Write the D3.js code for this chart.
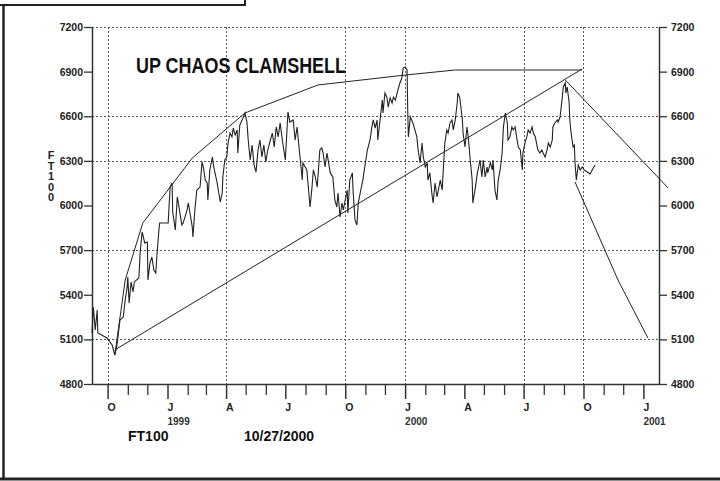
<!DOCTYPE html>
<html>
<head>
<meta charset="utf-8">
<script src="https://cdn.jsdelivr.net/npm/d3@7"></script>
<style>
body { margin:0; background:#fff; }
svg { display:block; font-family:"Liberation Sans", Arial, sans-serif; }
</style>
</head>
<body>
<svg id="chart" width="720" height="481"></svg>
<script>
var startDate = new Date(1998, 8, 7);
var endDate = new Date(2001, 0, 25);

var yTicks = [4800, 5100, 5400, 5700, 6000, 6300, 6600, 6900, 7200];
var yGrid = [7200, 6600, 6300, 5700, 5100];
var xGrid = ["1998-10-01", "1999-04-01", "1999-10-01", "2000-01-01", "2000-07-01", "2000-10-01"];
var quarterDates = ["1998-10-01", "1999-01-01", "1999-04-01", "1999-07-01", "1999-10-01",
                    "2000-01-01", "2000-04-01", "2000-07-01", "2000-10-01", "2001-01-01"];
var quarterLetters = ["O", "J", "A", "J", "O", "J", "A", "J", "O", "J"];
var yearDates = ["1999-01-01", "2000-01-01", "2001-01-01"];
var yearLabels = ["1999", "2000", "2001"];

// FT100 closes, day offsets counted from startDate
var priceDays = [0, 2, 5, 8, 9, 23, 31, 35, 38, 43, 48, 51, 54, 55, 57, 60, 63, 65, 72, 74,
  77, 81, 85, 86, 89, 92, 95, 98, 100, 103, 104, 117, 120, 123, 124, 128, 131, 132, 135, 138,
  140, 146, 148, 151, 154, 155, 158, 161, 166, 169, 171, 174, 177, 178, 181, 185, 187, 192, 194, 197,
  200, 201, 204, 207, 209, 212, 215, 217, 220, 223, 224, 227, 232, 235, 238, 240, 243, 246, 249, 252,
  255, 258, 261, 264, 267, 270, 274, 277, 280, 283, 286, 289, 293, 297, 301, 304, 309, 312, 315, 320,
  323, 324, 330, 335, 338, 340, 343, 346, 350, 353, 355, 358, 361, 366, 370, 373, 376, 378, 381, 384,
  386, 389, 392, 393, 396, 400, 401, 404, 407, 409, 412, 416, 419, 423, 427, 430, 432, 435, 438, 439,
  443, 446, 447, 450, 453, 455, 458, 461, 463, 466, 470, 473, 476, 478, 481, 484, 485, 486, 489, 493,
  499, 501, 504, 507, 509, 512, 515, 516, 519, 522, 524, 527, 530, 535, 538, 539, 542, 545, 547, 550,
  553, 555, 558, 561, 562, 565, 569, 570, 573, 576, 578, 581, 584, 585, 589, 592, 593, 596, 599, 601,
  604, 607, 608, 612, 615, 616, 619, 622, 624, 627, 630, 632, 635, 638, 639, 642, 645, 647, 650, 653,
  655, 658, 661, 662, 665, 668, 670, 673, 676, 678, 681, 684, 685, 688, 691, 693, 696, 699, 701, 704,
  707, 708, 711, 715, 716, 719, 722, 724, 727, 728, 730, 733, 734, 736, 739, 741, 742, 744, 745, 747,
  750, 753, 756, 761, 765, 770, 773];
var priceCloses = [5143, 5318, 5163, 5297, 5143, 5109, 5062, 4995, 5049, 5230, 5250, 5365, 5452, 5519, 5345, 5486, 5419, 5486, 5513, 5687,
  5822, 5748, 5755, 5499, 5613, 5654, 5566, 5546, 5681, 5849, 5882, 5882, 6124, 6151, 5956, 5835, 6057, 6037, 5950, 5869,
  5882, 5970, 6017, 5936, 5856, 5788, 5970, 6104, 6124, 6293, 6259, 6171, 6151, 6037, 6239, 6326, 6259, 6158, 6104, 6024,
  6084, 6192, 6306, 6326, 6420, 6487, 6461, 6521, 6474, 6508, 6353, 6541, 6588, 6622, 6561, 6440, 6306, 6407, 6272, 6225,
  6373, 6440, 6326, 6407, 6293, 6373, 6440, 6487, 6393, 6528, 6461, 6555, 6420, 6306, 6629, 6561, 6575, 6440, 6528, 6306,
  6171, 6286, 6239, 5990, 6124, 6239, 6192, 6124, 6373, 6387, 6353, 6259, 6353, 6219, 6192, 6037, 5990, 6084, 5923, 6017,
  5970, 6037, 6104, 5950, 6171, 6219, 6104, 5903, 5869, 6017, 6084, 6171, 6259, 6373, 6440, 6528, 6575, 6521, 6575, 6440,
  6595, 6709, 6622, 6756, 6729, 6662, 6723, 6689, 6729, 6709, 6777, 6824, 6857, 6924, 6931, 6911, 6642, 6461, 6595, 6555,
  6461, 6373, 6286, 6420, 6326, 6259, 6286, 6171, 6219, 6084, 6017, 6151, 6057, 6171, 6104, 6192, 6420, 6508, 6487, 6555,
  6575, 6508, 6575, 6689, 6756, 6723, 6575, 6487, 6393, 6528, 6461, 6306, 6171, 6017, 6124, 6219, 6239, 6306, 6192, 6306,
  6192, 6259, 6219, 6286, 6239, 6306, 6104, 6037, 6171, 6239, 6353, 6528, 6622, 6555, 6440, 6461, 6528, 6508, 6528, 6440,
  6393, 6373, 6239, 6353, 6420, 6461, 6508, 6487, 6528, 6487, 6461, 6393, 6373, 6353, 6373, 6353, 6326, 6373, 6420, 6393,
  6440, 6528, 6555, 6575, 6561, 6595, 6709, 6797, 6824, 6756, 6797, 6689, 6575, 6487, 6393, 6407, 6286, 6171, 6205, 6272,
  6239, 6259, 6239, 6225, 6212, 6252, 6272];

// clamshell drawing lines
var arcDays = [35, 51, 78, 154, 235, 347, 481, 558, 753];
var arcValues = [4995, 5499, 5882, 6319, 6622, 6810, 6877, 6911, 6911];
var trendDays = [35, 753];
var trendValues = [5029, 6918];
var fallDays = [727, 885];
var fallValues = [6844, 6118];
var dropDays = [742, 808, 854];
var dropValues = [6158, 5499, 5109];

var parseDate = d3.timeParse("%Y-%m-%d");
function dayDate(d) { return d3.timeDay.offset(startDate, d); }

var svg = d3.select("#chart");

var x = d3.scaleTime()
  .domain([startDate, endDate])
  .range([92, 659]);

var y = d3.scaleLinear()
  .domain([4800, 7200])
  .range([384, 27]);

// frame
svg.append("path")
  .attr("d", "M3.5,5V479")
  .attr("stroke", "#222")
  .attr("stroke-width", 2.5)
  .attr("fill", "none");
svg.append("path")
  .attr("d", "M0,5H245V0")
  .attr("stroke", "#222")
  .attr("stroke-width", 2)
  .attr("fill", "none");
svg.append("path")
  .attr("d", "M0,479H720")
  .attr("stroke", "#222")
  .attr("stroke-width", 3)
  .attr("fill", "none");

// grid
svg.selectAll(".hgrid")
  .data(yGrid)
  .enter().append("line")
  .attr("class", "hgrid")
  .attr("x1", x.range()[0]).attr("x2", x.range()[1])
  .attr("y1", d => Math.round(y(d)) + 0.5).attr("y2", d => Math.round(y(d)) + 0.5)
  .attr("stroke", "#555")
  .attr("stroke-dasharray", "2,2");

svg.selectAll(".vgrid")
  .data(xGrid)
  .enter().append("line")
  .attr("class", "vgrid")
  .attr("x1", d => Math.round(x(parseDate(d))) + 0.5).attr("x2", d => Math.round(x(parseDate(d))) + 0.5)
  .attr("y1", y.range()[1]).attr("y2", y.range()[0])
  .attr("stroke", "#555")
  .attr("stroke-dasharray", "2,2");

// axes
var leftAxis = svg.append("g")
  .attr("transform", "translate(92,0)")
  .call(d3.axisLeft(y).tickValues(yTicks).tickSize(8).tickSizeOuter(0).tickPadding(1).tickFormat(d3.format("d")));

var rightAxis = svg.append("g")
  .attr("transform", "translate(659,0)")
  .call(d3.axisRight(y).tickValues(yTicks).tickSize(8).tickSizeOuter(0).tickPadding(4).tickFormat(d3.format("d")));

var bottomAxis = svg.append("g")
  .attr("transform", "translate(0,384)")
  .call(d3.axisBottom(x).ticks(d3.timeMonth.every(1)).tickSize(11).tickSizeOuter(0).tickFormat(""));

bottomAxis.selectAll(".tick line")
  .attr("y2", function(d) { return d.getMonth() % 3 === 0 ? 15 : 11; })
  .attr("stroke-width", function(d) { return d.getMonth() % 3 === 0 ? 1.5 : 1.3; });

svg.selectAll(".domain")
  .attr("stroke", "#333")
  .attr("stroke-width", 1.5);
svg.selectAll(".tick line")
  .attr("stroke", "#333");
leftAxis.selectAll(".tick line").attr("stroke-width", 1.3);
rightAxis.selectAll(".tick line").attr("stroke-width", 1.3);

svg.selectAll(".tick text")
  .attr("font-family", "'Liberation Sans', Arial, sans-serif")
  .attr("font-size", "10.5px")
  .attr("font-weight", "bold")
  .attr("fill", "#222");

svg.selectAll(".qlabel")
  .data(quarterDates)
  .enter().append("text")
  .attr("class", "qlabel")
  .attr("x", d => x(parseDate(d)))
  .attr("y", 411)
  .attr("font-size", "10.5px")
  .attr("font-weight", "bold")
  .attr("fill", "#222")
  .text((d, i) => quarterLetters[i]);

svg.selectAll(".ylabel")
  .data(yearDates)
  .enter().append("text")
  .attr("class", "ylabel")
  .attr("x", d => x(parseDate(d)))
  .attr("y", 425)
  .attr("font-size", "10px")
  .attr("font-weight", "bold")
  .attr("fill", "#333")
  .text((d, i) => yearLabels[i]);

// price line
var line = d3.line()
  .x(d => x(dayDate(d[0])))
  .y(d => y(d[1]));

svg.append("path")
  .datum(d3.zip(priceDays, priceCloses))
  .attr("d", line)
  .attr("fill", "none")
  .attr("stroke", "#222")
  .attr("stroke-width", 1.1);

var overlays = [[arcDays, arcValues], [trendDays, trendValues], [fallDays, fallValues], [dropDays, dropValues]];
svg.selectAll(".overlay")
  .data(overlays)
  .enter().append("path")
  .attr("class", "overlay")
  .attr("d", d => line(d3.zip(d[0], d[1])))
  .attr("fill", "none")
  .attr("stroke", "#222")
  .attr("stroke-width", 1);

// texts
svg.append("text")
  .attr("x", 136)
  .attr("y", 73)
  .attr("font-size", "22px")
  .attr("font-weight", "bold")
  .attr("textLength", 210)
  .attr("lengthAdjust", "spacingAndGlyphs")
  .attr("fill", "#111")
  .text("UP CHAOS CLAMSHELL");

svg.selectAll(".vlabel")
  .data("FT100".split(""))
  .enter().append("text")
  .attr("class", "vlabel")
  .attr("x", 51)
  .attr("y", (d, i) => 159 + i * 10.5)
  .attr("text-anchor", "middle")
  .attr("font-size", "11px")
  .attr("font-weight", "bold")
  .attr("fill", "#222")
  .text(d => d);

svg.append("text")
  .attr("x", 128)
  .attr("y", 441)
  .attr("font-size", "14px")
  .attr("font-weight", "bold")
  .attr("fill", "#111")
  .text("FT100");

svg.append("text")
  .attr("x", 244)
  .attr("y", 441)
  .attr("font-size", "14px")
  .attr("font-weight", "bold")
  .attr("fill", "#111")
  .text("10/27/2000");
</script>
</body>
</html>
